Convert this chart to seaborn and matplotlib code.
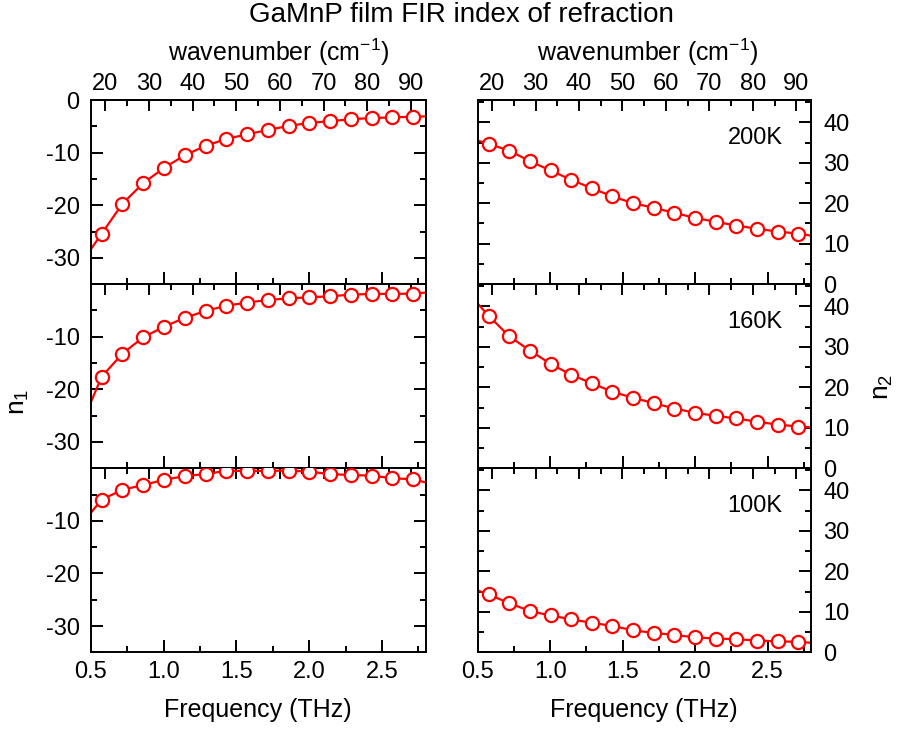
import matplotlib
matplotlib.use("Agg")
import matplotlib.pyplot as plt
import seaborn as sns
from matplotlib.ticker import MultipleLocator, FixedLocator

# marker frequencies (THz)
freq = [0.575, 0.718, 0.860, 1.003, 1.145, 1.288, 1.430, 1.573,
        1.715, 1.858, 2.000, 2.143, 2.285, 2.428, 2.570, 2.713]
# curve runs edge to edge of the axis
curve_start, curve_end = 0.5, 2.8

# real part n1
n1_200K = [-25.4, -19.7, -15.8, -12.9, -10.5, -8.7, -7.4, -6.5,
           -5.7, -4.9, -4.35, -4.0, -3.65, -3.4, -3.3, -3.15]
n1_200K_edges = (-28.4, -3.1)
n1_160K = [-17.6, -13.2, -10.1, -8.1, -6.4, -5.1, -4.1, -3.5,
           -3.0, -2.7, -2.5, -2.3, -2.0, -1.85, -1.85, -1.8]
n1_160K_edges = (-22.5, -1.6)
n1_100K = [-5.96, -4.1, -3.2, -2.2, -1.5, -1.1, -0.5, -0.5,
           -0.5, -0.45, -0.65, -1.1, -1.3, -1.4, -1.9, -2.1]
n1_100K_edges = (-8.5, -2.7)

# imaginary part n2
n2_200K = [34.7, 33.0, 30.4, 28.1, 25.8, 23.7, 21.7, 20.0,
           18.9, 17.6, 16.4, 15.4, 14.5, 13.7, 13.0, 12.5]
n2_200K_edges = (35.5, 12.0)
n2_160K = [37.7, 32.6, 29.1, 25.8, 23.1, 21.0, 18.9, 17.4,
           16.1, 14.75, 13.7, 12.95, 12.3, 11.5, 10.8, 10.3]
n2_160K_edges = (40.7, 10.1)
n2_100K = [14.3, 12.15, 10.2, 9.1, 8.15, 7.3, 6.5, 5.45,
           4.8, 4.3, 3.7, 3.4, 3.25, 2.9, 2.7, 2.6]
n2_100K_edges = (15.3, 2.35)

temps = ["200K", "160K", "100K"]
wn_major = [20, 30, 40, 50, 60, 70, 80, 90]
wn_minor = [25, 35, 45, 55, 65, 75, 85]

n1_sets = [(n1_200K, n1_200K_edges), (n1_160K, n1_160K_edges), (n1_100K, n1_100K_edges)]
n2_sets = [(n2_200K, n2_200K_edges), (n2_160K, n2_160K_edges), (n2_100K, n2_100K_edges)]

THZ_TO_CM = 33.356

sns.set_style("ticks")
plt.rcParams["font.family"] = ["Liberation Sans", "DejaVu Sans"]
plt.rcParams["mathtext.fontset"] = "custom"
plt.rcParams["mathtext.rm"] = "Liberation Sans"
plt.rcParams["mathtext.it"] = "Liberation Sans"
plt.rcParams["axes.unicode_minus"] = False
for key in ["text.color", "axes.labelcolor", "xtick.color", "ytick.color",
            "axes.edgecolor"]:
    plt.rcParams[key] = "black"

W, H = 902, 729
fig = plt.figure(figsize=(W / 100, H / 100), dpi=100)

row_bottoms = [0.6102, 0.3577, 0.1052]
row_h = 0.2525
col_left = [0.1006, 0.5296]
col_w = [0.3714, 0.3695]

TICK_FS = 17
LABEL_FS = 18


def style_axis(ax, row, side):
    ax.set_xlim(0.5, 2.8)
    ax.xaxis.set_major_locator(MultipleLocator(0.5))
    ax.xaxis.set_minor_locator(MultipleLocator(0.25))
    for sp in ax.spines.values():
        sp.set_linewidth(1.4)
        sp.set_color("black")
    ax.tick_params(which="both", direction="in", width=1.4, colors="black",
                   top=False, bottom=True, left=True, right=True,
                   labelsize=TICK_FS)
    ax.tick_params(which="major", length=8.5)
    ax.tick_params(which="minor", length=4.5)
    ax.tick_params(axis="x", pad=6, labelbottom=(row == 2))
    if side == "left":
        ax.set_ylim(-35, 0)
        ticks = [-30, -20, -10, 0] if row == 0 else [-30, -20, -10]
        ax.yaxis.set_major_locator(FixedLocator(ticks))
        ax.yaxis.set_minor_locator(MultipleLocator(5))
        ax.tick_params(axis="y", pad=8, labelleft=True, labelright=False)
    else:
        ax.set_ylim(0, 45.5)
        ax.yaxis.set_major_locator(FixedLocator([0, 10, 20, 30, 40]))
        ax.yaxis.set_minor_locator(MultipleLocator(5))
        ax.tick_params(axis="y", pad=9, labelleft=False, labelright=True)
    ax.grid(False)

    sec = ax.secondary_xaxis("top", functions=(lambda f: f * THZ_TO_CM,
                                               lambda w: w / THZ_TO_CM))
    sec.xaxis.set_major_locator(FixedLocator(wn_major))
    sec.xaxis.set_minor_locator(FixedLocator(wn_minor))
    sec.tick_params(which="both", direction="in", width=1.4, colors="black",
                    labelsize=TICK_FS, pad=4, labeltop=(row == 0))
    sec.tick_params(which="major", length=8)
    sec.tick_params(which="minor", length=4.5)
    for sp in sec.spines.values():
        sp.set_linewidth(1.4)


for col, (sets, side) in enumerate([(n1_sets, "left"), (n2_sets, "right")]):
    for row, (vals, edges) in enumerate(sets):
        ax = fig.add_axes([col_left[col], row_bottoms[row], col_w[col], row_h])
        style_axis(ax, row, side)
        line_x = [curve_start] + freq + [curve_end]
        line_y = [edges[0]] + vals + [edges[1]]
        sns.lineplot(x=line_x, y=line_y, ax=ax, color="red", linewidth=1.6,
                     estimator=None, sort=False, zorder=2)
        sns.scatterplot(x=freq, y=vals, ax=ax, marker="o", s=90,
                        color="white", edgecolor="red", linewidth=1.6,
                        zorder=3)
        ax.set_xlabel("")
        ax.set_ylabel("")
        if side == "right":
            ax.text(0.915, 0.76, temps[row], transform=ax.transAxes,
                    ha="right", va="baseline", fontsize=17)

# figure-level labels
fig.text(461 / W, 1 - 22 / H, "GaMnP film FIR index of refraction",
         ha="center", va="baseline", fontsize=20)
fig.text(279 / W, 1 - 61.5 / H, "wavenumber (cm$^{-1}$)",
         ha="center", va="baseline", fontsize=LABEL_FS)
fig.text(648 / W, 1 - 61.5 / H, "wavenumber (cm$^{-1}$)",
         ha="center", va="baseline", fontsize=LABEL_FS)
fig.text(258 / W, 1 - 717 / H, "Frequency (THz)",
         ha="center", va="baseline", fontsize=LABEL_FS)
fig.text(644 / W, 1 - 717 / H, "Frequency (THz)",
         ha="center", va="baseline", fontsize=LABEL_FS)
fig.text(19 / W, 1 - 402 / H, "n$_1$", rotation=90,
         ha="center", va="center", fontsize=LABEL_FS + 1)
fig.text(883 / W, 1 - 387 / H, "n$_2$", rotation=90,
         ha="center", va="center", fontsize=LABEL_FS + 1)

fig.savefig("out.png", dpi=100)
